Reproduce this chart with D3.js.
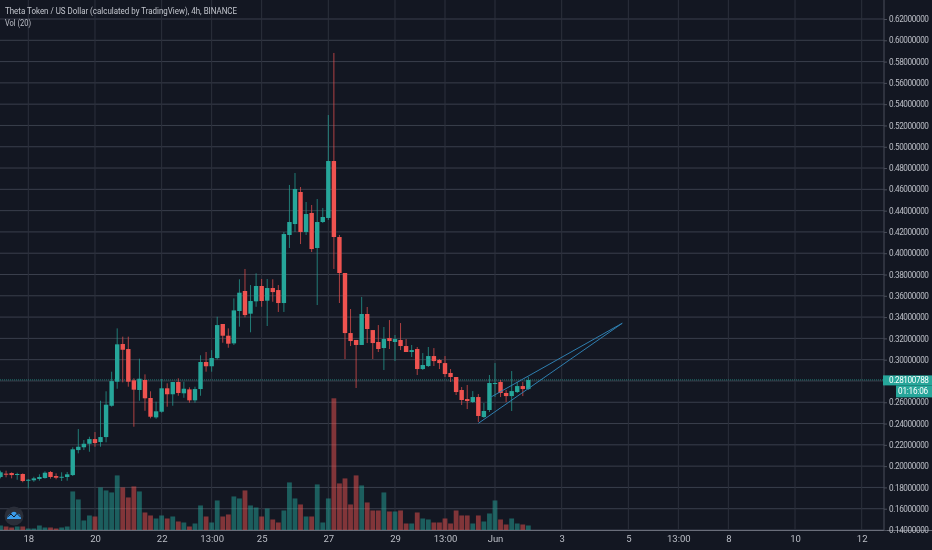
<!DOCTYPE html>
<html>
<head>
<meta charset="utf-8">
<script src="https://cdn.jsdelivr.net/npm/d3@7"></script>
<style>
  html, body { margin: 0; padding: 0; background: #131722; overflow: hidden; }
  svg { display: block; filter: blur(0.35px); }
  text { font-family: Roboto, "Open Sans", sans-serif; }
</style>
</head>
<body>
<script>
const open = [.1898,.1929,.1935,.1919,.1926,.1863,.1867,.1879,.1888,.1945,.1907,.1891,.1898,.1916,.2151,.2177,.2210,.2254,.2226,.2273,.2567,.2793,.3147,.3100,.2806,.2715,.2809,.2640,.2458,.2511,.2731,.2675,.2790,.2684,.2721,.2618,.2724,.2978,.2938,.3015,.3335,.3225,.3153,.3457,.3645,.3432,.3548,.3692,.3554,.3673,.3654,.3532,.4171,.4274,.4575,.4199,.4378,.4049,.4293,.4331,.4866,.4152,.3814,.3250,.3185,.3138,.3429,.3278,.3166,.3109,.3203,.3166,.3185,.3128,.3072,.3100,.2912,.2940,.3034,.2997,.2968,.2875,.2837,.2715,.2630,.2602,.2649,.2461,.2527,.2771,.2790,.2687,.2658,.2696,.2752,.2724];
const high = [.1957,.1957,.1942,.1938,.1932,.1879,.1900,.1923,.1951,.1954,.1932,.1942,.1945,.2177,.2348,.2245,.2276,.2320,.2614,.2703,.2887,.3294,.3216,.3216,.2825,.3009,.2862,.2703,.2605,.2818,.2778,.2790,.2825,.2793,.2740,.2746,.3041,.3072,.3090,.3403,.3335,.3294,.3576,.3755,.3852,.3701,.3811,.3758,.3758,.3755,.3701,.4199,.4641,.4753,.4622,.4481,.4453,.4509,.4425,.5298,.5881,.4171,.3814,.3476,.3185,.3589,.3495,.3278,.3325,.3307,.3372,.3232,.3344,.3194,.3138,.3119,.3062,.3119,.3109,.3006,.3034,.2912,.2837,.2743,.2762,.2705,.2677,.2593,.2856,.2968,.2809,.2715,.2893,.2790,.2790,.2837];
const low = [.1885,.1895,.1885,.1872,.1848,.1791,.1853,.1863,.1882,.1882,.1876,.1860,.1863,.1907,.2120,.2151,.2135,.2182,.2182,.2224,.2558,.2727,.2787,.2746,.2370,.2614,.2520,.2449,.2445,.2502,.2558,.2567,.2661,.2642,.2596,.2596,.2661,.2887,.2887,.3003,.3159,.3112,.3138,.3310,.3398,.3257,.3497,.3497,.3316,.3544,.3448,.3448,.4049,.4199,.4086,.4171,.4011,.3513,.4284,.4312,.3852,.3532,.3006,.3128,.2734,.3138,.3156,.3006,.3072,.2903,.3100,.2987,.3090,.3072,.3025,.2856,.2903,.2931,.2940,.2912,.2837,.2790,.2668,.2574,.2536,.2593,.2414,.2452,.2508,.2649,.2649,.2602,.2518,.2687,.2658,.2715];
const close = [.1942,.1923,.1916,.1926,.1860,.1872,.1885,.1898,.1938,.1898,.1891,.1900,.1923,.2158,.2182,.2210,.2254,.2217,.2273,.2577,.2799,.3144,.3093,.2793,.2718,.2821,.2637,.2464,.2515,.2731,.2675,.2790,.2687,.2727,.2618,.2724,.2978,.2938,.3015,.3325,.3225,.3150,.3463,.3629,.3419,.3551,.3692,.3551,.3673,.3635,.3532,.4180,.4293,.4603,.4199,.4368,.4039,.4293,.4340,.4866,.4152,.3814,.3250,.3175,.3138,.3429,.3288,.3156,.3100,.3194,.3175,.3194,.3128,.3072,.3090,.2912,.2950,.3034,.2987,.2968,.2865,.2837,.2696,.2621,.2612,.2649,.2471,.2518,.2781,.2781,.2687,.2658,.2705,.2752,.2724,.2809];
const volume = [5,4,3,4,4,2,2,5,3,3,2,3,4,39,31,10,15,14,43,40,38,55,43,33,44,39,18,15,12,15,12,14,9,8,4,7,25,14,8,30,14,16,34,32,40,25,23,14,22,11,8,20,48,32,26,14,14,46,8,32,132,47,52,26,55,45,28,20,20,38,19,19,20,7,7,18,12,11,8,8,12,7,20,15,15,7,15,9,17,30,11,6,12,7,6,5];

const timeTickIndex = [5,17,29,38,47,59,71,80,89,101,113,122,131,143,155];
const timeTickLabels = ["18","20","22","13:00","25","27","29","13:00","Jun","3","5","13:00","8","10","12"];
const priceTicks = [.62,.60,.58,.56,.54,.52,.50,.48,.46,.44,.42,.40,.38,.36,.34,.32,.30,.28,.26,.24,.22,.20,.18,.16,.14];

const lastPrice = 0.28100788;
const countdown = "01:16:06";
const trendLow = [[86.0, .2402], [111.9, .3342]];
const trendHigh = [[88.1, .2644], [111.9, .3342]];

const width = 932, height = 550;
const axisX = 884, baseY = 530.5;
const up = "#26a69a", down = "#ef5350", gridColor = "#3a3f4c", textColor = "#bcbfc7", trendColor = "#2f7fb0";

const svg = d3.select("body").append("svg")
    .attr("width", width)
    .attr("height", height);

svg.append("rect").attr("width", width).attr("height", height).attr("fill", "#131722");

const x = d3.scaleLinear().domain([0, 155]).range([0.52, 861.7]);
const y = d3.scaleLinear().domain([.14, .62]).range([530, 19]);
const v = d3.scaleLinear().domain([0, 132]).range([baseY, 398.3]);

const isUp = i => close[i] >= open[i];
const color = i => isUp(i) ? up : down;
const index = d3.range(open.length);

// grid
svg.append("g").selectAll("line").data(priceTicks).join("line")
    .attr("x1", 0).attr("x2", axisX)
    .attr("y1", d => y(d)).attr("y2", d => y(d))
    .attr("stroke", gridColor);
svg.append("g").selectAll("line").data(timeTickIndex).join("line")
    .attr("x1", d => x(d)).attr("x2", d => x(d))
    .attr("y1", 0).attr("y2", baseY)
    .attr("stroke", "#2c303c");

// volume
svg.append("g").selectAll("rect").data(index).join("rect")
    .attr("x", i => x(i) - 2.4)
    .attr("width", 4.8)
    .attr("y", i => v(volume[i]))
    .attr("height", i => baseY - v(volume[i]))
    .attr("fill", color)
    .attr("fill-opacity", 0.5);

// last price line
svg.append("line")
    .attr("x1", 0).attr("x2", axisX)
    .attr("y1", y(lastPrice)).attr("y2", y(lastPrice))
    .attr("stroke", up)
    .attr("stroke-opacity", 0.65)
    .attr("stroke-dasharray", "1 1");

// candles
svg.append("g").selectAll("line").data(index).join("line")
    .attr("x1", i => x(i)).attr("x2", i => x(i))
    .attr("y1", i => y(high[i])).attr("y2", i => y(low[i]))
    .attr("stroke", color)
    .attr("stroke-opacity", 0.7);
svg.append("g").selectAll("rect").data(index).join("rect")
    .attr("x", i => x(i) - 2.2)
    .attr("width", 4.4)
    .attr("y", i => y(Math.max(open[i], close[i])))
    .attr("height", i => Math.max(1, Math.abs(y(open[i]) - y(close[i]))))
    .attr("fill", color);

// trend lines
const trend = d3.line().x(d => x(d[0])).y(d => y(d[1]));
svg.append("g").selectAll("path").data([trendLow, trendHigh]).join("path")
    .attr("d", trend)
    .attr("fill", "none")
    .attr("stroke", trendColor);

// axes
const bottomA = svg.append("g")
    .attr("transform", "translate(0," + baseY + ")")
    .call(d3.axisBottom(x).tickValues(timeTickIndex).tickSize(0).tickPadding(5)
        .tickFormat((d, i) => timeTickLabels[i]));
bottomA.select("path").remove();
bottomA.selectAll("text").attr("fill", textColor).style("font-size", "9.5px").style("font-family", "Roboto");
svg.append("line")
    .attr("x1", 0).attr("x2", width)
    .attr("y1", baseY).attr("y2", baseY)
    .attr("stroke", "#6a6e7a");

// narrow numbers, the reference squeezes ten characters into 38px
const rightA = svg.append("g")
    .attr("transform", "translate(" + axisX + ",0)")
    .call(d3.axisRight(y).tickValues(priceTicks).tickSize(3).tickPadding(2).tickFormat(d3.format(".8f")));
rightA.select("path").attr("d", "M0,0V" + baseY).attr("stroke", "#4a4e5a");
rightA.selectAll("line").attr("stroke", "#4a4e5a");
rightA.selectAll("text")
    .attr("fill", textColor)
    .style("letter-spacing", "-0.4px")
    .style("font-size", "8.2px")
    .style("font-family", "Roboto");

// price and countdown tags
const tagY = y(lastPrice);
svg.append("rect").attr("x", axisX - 1).attr("y", tagY - 4.5).attr("width", 49).attr("height", 10).attr("fill", up);
svg.append("rect").attr("x", 896).attr("y", tagY + 5.5).attr("width", 36).attr("height", 12).attr("fill", up);
svg.append("text").attr("x", 889).attr("y", tagY + 3.5)
    .attr("fill", "#fff").attr("font-size", 8.2)
    .style("letter-spacing", "-0.4px")
    .text(d3.format(".8f")(lastPrice));
svg.append("text").attr("x", 898).attr("y", tagY + 14.5)
    .attr("fill", "#fff").attr("font-size", 8.2)
    .style("letter-spacing", "-0.2px")
    .text(countdown);

// header
svg.append("text").attr("x", 5).attr("y", 14)
    .attr("fill", "#c3c6ce").attr("font-size", 9.5)
    .attr("textLength", 232).attr("lengthAdjust", "spacingAndGlyphs")
    .text("Theta Token / US Dollar (calculated by TradingView), 4h, BINANCE");
svg.append("text").attr("x", 5).attr("y", 26)
    .attr("fill", textColor).attr("font-size", 9.5)
    .attr("textLength", 26).attr("lengthAdjust", "spacingAndGlyphs")
    .text("Vol (20)");

// logo
const logo = svg.append("g").attr("transform", "translate(14,516)");
logo.append("circle").attr("r", 9.5).attr("fill", "#2a2e39");
logo.append("path")
    .attr("d", "M-7,3 C-7,-1 -4,-2 -3,-2 C-2,-5 2,-5 3,-2 C5,-3 7,-1 7,3 Z")
    .attr("fill", "#3b9be8");
logo.append("path")
    .attr("d", "M-6.5,1 L-3,-2 L0,1 L3,-2.5 L6.5,1")
    .attr("fill", "none").attr("stroke", "#131722").attr("stroke-width", 1);
</script>
</body>
</html>
